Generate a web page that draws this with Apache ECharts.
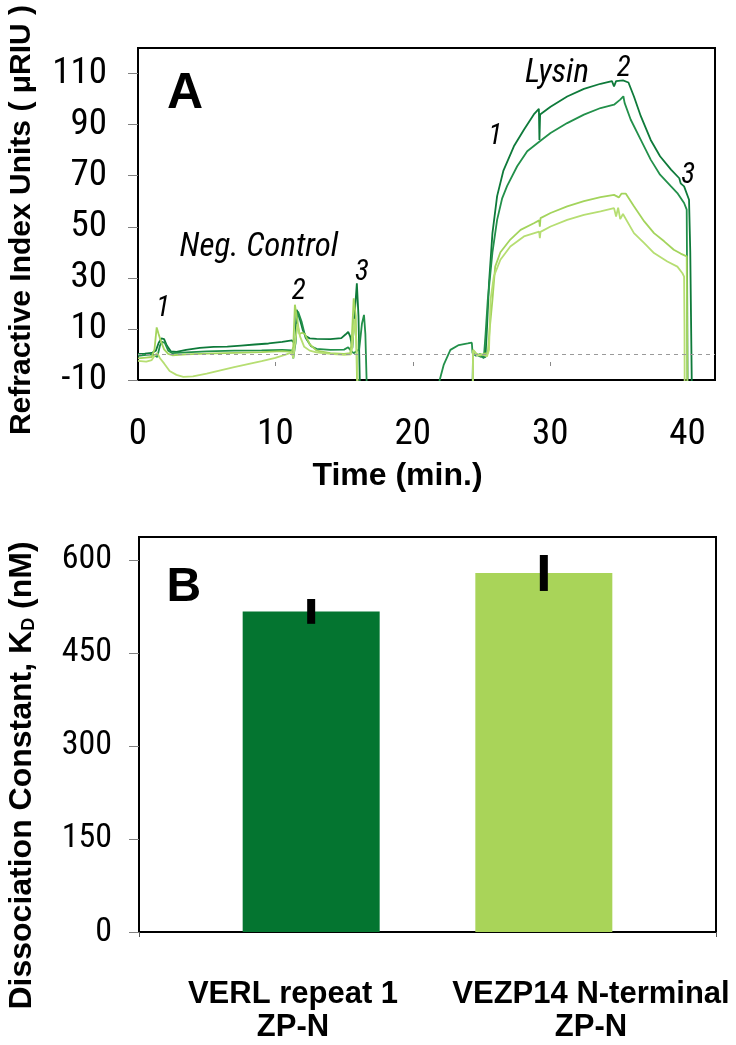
<!DOCTYPE html>
<html lang="en">
<head>
    <meta charset="UTF-8">
    <script src="https://cdn.jsdelivr.net/npm/echarts@6/dist/echarts.min.js"></script>
    <title>SPR binding and KD</title>
    <style>
        html, body { margin: 0; padding: 0; background: #fff; }
        #chart { width: 736px; height: 1045px; }
    </style>
</head>
<body>
<div id="chart"></div>
<script>
    // ---- panel A : sensorgrams (time in min, response in uRIU) ----
    const darkUpper = [
        [0, 0.2], [0.5, 0.3], [1.0, 0.6], [1.3, 1.5], [1.5, 4.5], [1.7, 6.3], [1.9, 6.0], [2.1, 3.5], [2.4, 1.2],
        [2.8, 1.0], [3.5, 1.8], [4.5, 2.6], [5.5, 3.0], [6.5, 3.1], [7.5, 3.5], [8.5, 3.9], [9.5, 4.3], [10.5, 4.9],
        [11.2, 5.5], [11.45, 4.0], [11.55, 17.5], [11.75, 14.5], [12.0, 9.5], [12.2, 7.2], [12.5, 6.3], [13.0, 6.1],
        [14.0, 6.0], [14.8, 6.4], [15.1, 7.8], [15.3, 8.8], [15.45, 7.0], [15.6, 2.5], [15.8, 18], [15.93, 27.9],
        [16.05, 15], [16.15, -12], [16.2, -30], [24.3, -30], [24.39, 1.0], [24.6, 0], [24.9, -0.8], [25.29, -1],
        [25.4, 10], [25.55, 28], [25.8, 47.5], [26.14, 62], [26.6, 72], [27.36, 81.5], [28.09, 88], [28.81, 94],
        [29.18, 96.2], [29.22, 84], [29.27, 94], [30.03, 97], [31.24, 101], [32.46, 104], [33.67, 106], [34.5, 107],
        [34.65, 105], [34.8, 107], [35.3, 107.3], [35.7, 106.5], [36.1, 101], [36.6, 93.3], [37.32, 84], [38.0, 77.6],
        [38.8, 72.4], [39.4, 69], [39.5, 67], [39.75, 65.8], [40.11, 60.6], [40.2, 40], [40.35, -30]
    ];
    const darkLower = [
        [0, -0.5], [0.6, -0.2], [1.1, 0.0], [1.4, -1.0], [1.6, 3.5], [1.75, 5.0], [1.95, 4.5], [2.2, 1.5], [2.5, 0.5],
        [3.5, 0.8], [5, 1.2], [7, 1.5], [9, 1.6], [10.5, 1.8], [11.2, 1.6], [11.3, -1.5], [11.45, 4], [11.65, 16.8],
        [11.9, 13], [12.2, 6.5], [12.6, 3.2], [13.0, 2.2], [14.0, 1.8], [15.0, 1.9], [15.3, 2.8], [15.5, 1.5],
        [15.7, 0.5], [16.1, 2], [16.3, 12], [16.45, 15.5], [16.55, 8], [16.65, -12], [16.7, -30], [21.8, -16],
        [21.96, -10], [22.25, -4.1], [22.74, 1.8], [23.35, 3.7], [24.0, 4.3], [24.3, 4.6], [24.35, 0.6], [24.6, -0.5],
        [24.9, 0.2], [25.17, -1.5], [25.3, 8], [25.46, 21.4], [25.8, 40], [26.14, 52.7], [26.5, 61], [26.87, 66],
        [27.6, 73.7], [28.33, 79.6], [29.25, 83.5], [30.03, 86.7], [31.24, 90.6], [32.46, 93.9], [33.67, 96.5],
        [34.65, 97.8], [35.1, 99.8], [35.33, 101.1], [35.42, 98.5], [35.86, 92], [36.6, 84], [37.32, 76.3],
        [38.0, 70.4], [38.8, 65.8], [39.26, 63.2], [39.75, 59.3], [39.94, 56.7], [39.98, 20], [40.02, -30]
    ];
    const lightUpper = [
        [0, -1.5], [0.6, -1.2], [1.0, -1.0], [1.2, 2], [1.36, 10.6], [1.5, 8], [1.65, 5.5], [1.9, 2.0], [2.2, 0.2],
        [2.5, -0.3], [3.5, 0], [5, 0.3], [7, 0.6], [9, 0.9], [10.5, 1.3], [11.2, 1.0], [11.3, 3], [11.42, 19.5],
        [11.55, 15], [11.75, 8], [11.95, 8.5], [12.15, 8.0], [12.5, 4], [13.0, 1.5], [14, 0.5], [15, 0.2],
        [15.45, 0.5], [15.55, 5], [15.7, 22], [15.85, 15], [15.95, -12], [16.0, -30], [24.35, -30], [24.39, 1.8],
        [24.6, 0.5], [24.9, -0.5], [25.2, 0.3], [25.46, 0.5], [25.6, 10], [25.8, 21.4], [26.0, 34.4], [26.38, 40],
        [27.1, 45], [27.85, 48.8], [28.81, 51.4], [29.2, 52.5], [29.25, 50], [29.3, 53.4], [30.03, 55.4],
        [31.24, 58], [32.46, 60], [33.67, 61.6], [34.65, 62.5], [35.0, 61.5], [35.2, 63], [35.5, 63], [36.1, 58],
        [36.85, 52.1], [37.56, 47.5], [38.3, 44.3], [39.0, 41], [39.5, 39.5], [39.94, 38.4], [39.97, 10], [40.0, -30]
    ];
    const lightLower = [
        [0, -2.5], [0.6, -2.8], [1.0, -2.2], [1.2, -0.5], [1.4, 0.5], [1.6, -1.5], [1.9, -3.5], [2.3, -6.5],
        [2.8, -8.0], [3.3, -8.8], [4.0, -8.6], [5.0, -7.5], [6.0, -6.2], [7.0, -5], [8.0, -3.8], [9.0, -2.6],
        [10.0, -1.3], [10.8, 0], [11.2, 0.8], [11.3, -1.5], [11.45, 5], [11.6, 12], [11.8, 7], [12.1, 3],
        [12.5, 1.5], [13, 0.8], [14, 0.2], [15, -0.2], [15.5, 0], [15.6, 3], [15.75, 14], [15.9, 5], [16.0, -12],
        [16.05, -30], [24.35, -30], [24.39, 1.5], [24.7, -0.5], [25.0, 0.2], [25.4, -0.8], [25.55, 1.8],
        [25.66, 21.4], [25.9, 30.6], [26.38, 37.1], [27.1, 42.3], [28.09, 46.2], [29.2, 48.1], [29.25, 45.5],
        [29.3, 48], [30.03, 50.1], [31.24, 52.7], [32.46, 54.7], [33.67, 56], [34.65, 57.3], [34.8, 54],
        [34.95, 57.5], [35.1, 53], [35.3, 55], [36.1, 47.5], [36.85, 43.6], [37.56, 39.7], [38.53, 36.4],
        [39.26, 34.4], [39.63, 31.8], [39.75, 30.5], [39.78, 10], [39.8, -30]
    ];
    const traceColors = ['#0e7a3a', '#22904a', '#a3d45c', '#b6de72'];
    const xTicksA = [0, 10, 20, 30, 40];
    const yTicksA = [-10, 10, 30, 50, 70, 90, 110];
    const minorTicksA = [10, 20, 30];
    // annotations: [time, value, text]
    const stepNotesA = [
        [1.82, 17.8, '1'], [11.7, 24.5, '2'], [16.3, 32, '3'],
        [35.35, 112, '2'], [26.0, 85.1, '1'], [40.05, 70, '3']
    ];
    const wordNotesA = [[8.8, 41.8, 'Neg. Control'], [30.5, 110, 'Lysin']];
    const letterA = [[3.43, 101.8, 'A']];

    // ---- panel B : dissociation constants ----
    const constructs = ['VERL repeat 1\nZP-N', 'VEZP14 N-terminal\nZP-N'];
    const kdPos = [1, 2];
    const kdValues = [517, 579];
    const kdErrors = [20, 29];
    const barColors = ['#047530', '#a9d459'];
    const yTicksB = [0, 150, 300, 450, 600];
    const letterB = [[0.453, 555, 'B']];

    const narrow = "'Roboto Condensed', 'DejaVu Sans Condensed', sans-serif";
    const bold = "'Liberation Sans', Arial, sans-serif";

    const chart = echarts.init(document.getElementById('chart'), null, { renderer: 'canvas' });

    function traceSeries(data, color, i) {
        const s = {
            type: 'line', xAxisIndex: 0, yAxisIndex: 0, data: data, showSymbol: false, symbol: 'none',
            lineStyle: { color: color, width: 1.8 }, animation: false, z: 3
        };
        if (i === 0) {
            // dashed baseline at zero
            s.markLine = {
                silent: true, symbol: 'none', label: { show: false },
                lineStyle: { color: '#9a9a9a', type: [4, 4], width: 1 },
                data: [{ yAxis: 0 }]
            };
        }
        return s;
    }

    function noteSeries(data, xi, yi, style) {
        return {
            type: 'scatter', xAxisIndex: xi, yAxisIndex: yi, data: data, symbolSize: 0, z: 5, silent: true,
            itemStyle: { opacity: 1 },
            label: Object.assign({ show: true, position: 'inside', formatter: p => p.data[2], color: '#000' }, style)
        };
    }

    const traces = [darkUpper, darkLower, lightUpper, lightLower];

    chart.setOption({
        backgroundColor: '#fff',
        animation: false,
        grid: [
            { left: 138, top: 48, width: 577, height: 332, outerBoundsMode: 'none', show: true, borderColor: '#000', borderWidth: 2, backgroundColor: 'transparent' },
            { left: 139, top: 537, width: 577, height: 395, outerBoundsMode: 'none', show: true, borderColor: '#000', borderWidth: 2, backgroundColor: 'transparent' },
            { left: 144, top: 537, width: 596, height: 395, outerBoundsMode: 'none' }
        ],
        xAxis: [
            {
                gridIndex: 0, type: 'value', min: 0, max: 42,
                name: 'Time (min.)', nameLocation: 'middle', nameGap: 80,
                nameTextStyle: { fontFamily: bold, fontWeight: 'bold', fontSize: 32, color: '#000', padding: [0, 58, 0, 0] },
                axisLine: { onZero: false, lineStyle: { color: '#000', width: 2 } },
                axisTick: { show: false },
                splitLine: { show: false },
                axisLabel: { customValues: xTicksA, margin: 36, fontFamily: narrow, fontSize: 37, color: '#000' }
            },
            {
                gridIndex: 0, type: 'value', min: 0, max: 42, position: 'bottom', offset: -14,
                axisLine: { show: false, onZero: false },
                axisTick: { show: true, inside: true, length: 4, customValues: minorTicksA, lineStyle: { color: '#888' } },
                axisLabel: { show: false },
                splitLine: { show: false }
            },
            {
                gridIndex: 1, type: 'value', min: 0.26, max: 2.74,
                axisLine: { onZero: false, lineStyle: { color: '#000', width: 2 } },
                axisTick: { show: true, length: 5, customValues: [0.26, 2.74], lineStyle: { color: '#555' } },
                axisLabel: { show: false },
                splitLine: { show: false }
            },
            {
                gridIndex: 2, type: 'category', data: constructs,
                axisLine: { show: false }, axisTick: { show: false }, splitLine: { show: false },
                axisLabel: { margin: 46, fontFamily: bold, fontWeight: 'bold', fontSize: 31, lineHeight: 33, color: '#000', interval: 0 }
            }
        ],
        yAxis: [
            {
                gridIndex: 0, type: 'value', min: -10, max: 120,
                name: 'Refractive Index Units ( \u03bcRIU )', nameLocation: 'middle', nameGap: 101,
                nameTextStyle: { fontFamily: bold, fontWeight: 'bold', fontSize: 30, color: '#000', padding: [0, 12, 0, 0] },
                axisLine: { onZero: false, lineStyle: { color: '#000', width: 2 } },
                axisTick: { show: true, length: 10, customValues: yTicksA, lineStyle: { color: '#808080' } },
                splitLine: { show: false },
                axisLabel: { customValues: yTicksA, margin: 31, fontFamily: narrow, fontSize: 37, color: '#000' }
            },
            {
                gridIndex: 1, type: 'value', min: 0, max: 637,
                name: '{t|Dissociation Constant, K}{s|D}{t| (nM)}', nameLocation: 'middle', nameGap: 101,
                nameTextStyle: {
                    padding: [0, 82, 0, 0],
                    rich: {
                        t: { fontFamily: bold, fontWeight: 'bold', fontSize: 32, color: '#000', lineHeight: 36, verticalAlign: 'bottom' },
                        s: { fontFamily: bold, fontWeight: 'bold', fontSize: 18, color: '#000', lineHeight: 36, verticalAlign: 'bottom' }
                    }
                },
                axisLine: { onZero: false, lineStyle: { color: '#000', width: 2 } },
                axisTick: { show: true, length: 10, customValues: yTicksB, lineStyle: { color: '#808080' } },
                splitLine: { show: false },
                axisLabel: { customValues: yTicksB, margin: 27, fontFamily: narrow, fontSize: 34, color: '#000' }
            },
            { gridIndex: 2, type: 'value', show: false }
        ],
        series: [
            ...traces.map((d, i) => traceSeries(d, traceColors[i], i)),
            noteSeries(stepNotesA, 0, 0, { fontFamily: narrow, fontStyle: 'italic', fontSize: 29 }),
            noteSeries(wordNotesA, 0, 0, { fontFamily: narrow, fontStyle: 'italic', fontSize: 33 }),
            noteSeries(letterA, 0, 0, { fontFamily: bold, fontWeight: 'bold', fontSize: 50 }),
            {
                type: 'bar', xAxisIndex: 2, yAxisIndex: 1, barWidth: 137,
                data: kdPos.map((x, i) => ({ value: [x, kdValues[i]], itemStyle: { color: barColors[i] } }))
            },
            {
                type: 'custom', xAxisIndex: 2, yAxisIndex: 1, z: 4,
                data: kdPos.map((x, i) => [x, kdValues[i], kdErrors[i]]),
                renderItem: function (params, api) {
                    const x = api.value(0), v = api.value(1), e = api.value(2);
                    const top = api.coord([x, v + e]);
                    const bot = api.coord([x, v - e]);
                    return { type: 'rect', shape: { x: top[0] - 4, y: top[1], width: 8, height: bot[1] - top[1] }, style: { fill: '#000' } };
                }
            },
            noteSeries(letterB, 2, 1, { fontFamily: bold, fontWeight: 'bold', fontSize: 48 })
        ]
    });
</script>
</body>
</html>
